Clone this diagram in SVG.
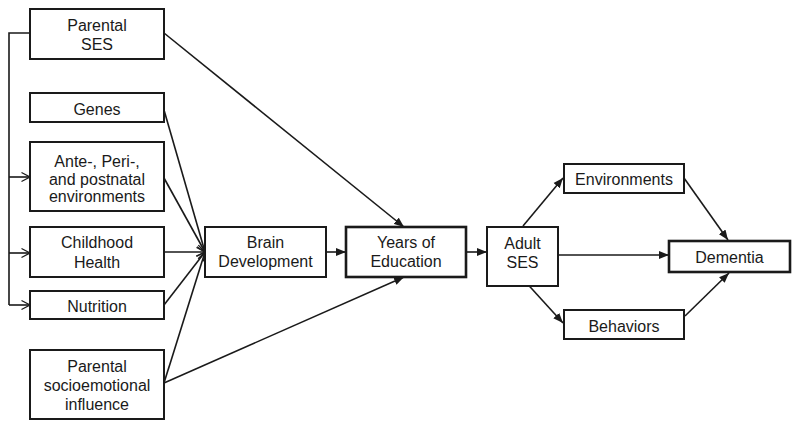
<svg xmlns="http://www.w3.org/2000/svg" width="800" height="429" viewBox="0 0 800 429">
<style>
.box{fill:#fff;stroke:#1a1a1a;stroke-width:2}
.bold{stroke-width:2.6}
text{font-family:"Liberation Sans",Arial,sans-serif;font-size:16px;fill:#1a1a1a;text-anchor:middle}
.c{fill:none;stroke:#1a1a1a;stroke-width:1.6}
.f{marker-end:url(#fa)}
.o{marker-end:url(#oa)}
</style>
<defs>
<marker id="fa" markerUnits="userSpaceOnUse" markerWidth="11" markerHeight="9" refX="10" refY="4.5" orient="auto">
<path d="M0,0.5 L10,4.5 L0,8.5 z" fill="#1a1a1a"/>
</marker>
<marker id="oa" markerUnits="userSpaceOnUse" markerWidth="12" markerHeight="12" refX="10" refY="6" orient="auto">
<path d="M1.5,1.5 L10,6 L1.5,10.5" fill="none" stroke="#1a1a1a" stroke-width="1.3"/>
</marker>
</defs>
<rect width="800" height="429" fill="#fff"/>
<g id="connectors">
<path class="c" d="M30,33 H9 V305"/>
<path class="c o" d="M9,177 H30"/>
<path class="c o" d="M9,253 H30"/>
<path class="c o" d="M9,305 H30"/>
<path class="c f" d="M164,33 L404,227"/>
<path class="c o" d="M164,110 L205,252"/>
<path class="c o" d="M164,178 L205,252"/>
<path class="c o" d="M164,252 L205,252"/>
<path class="c o" d="M164,305 L205,252"/>
<path class="c o" d="M164,383 L205,252"/>
<path class="c f" d="M164,383 L404,277"/>
<path class="c f" d="M326,252 L346,252"/>
<path class="c f" d="M466,252 L487,252"/>
<path class="c f" d="M523,226 L563,178"/>
<path class="c f" d="M558,255 L669,255"/>
<path class="c f" d="M522,278 L563,323"/>
<path class="c f" d="M684,178 L728,240"/>
<path class="c f" d="M685,316 L729,273"/>
</g>
<g id="parental-ses"><rect class="box" x="30" y="9" width="134" height="50"/><text x="97" y="31">Parental</text><text x="97" y="50">SES</text></g>
<g id="genes"><rect class="box" x="30" y="93" width="134" height="29"/><text x="97" y="115">Genes</text></g>
<g id="ante"><rect class="box" x="30" y="142" width="134" height="69"/><text x="97" y="167">Ante-, Peri-,</text><text x="97" y="185">and postnatal</text><text x="97" y="202">environments</text></g>
<g id="childhood-health"><rect class="box" x="30" y="227" width="134" height="50"/><text x="97" y="248">Childhood</text><text x="97" y="268">Health</text></g>
<g id="nutrition"><rect class="box" x="30" y="291" width="134" height="28"/><text x="97" y="312">Nutrition</text></g>
<g id="parental-socio"><rect class="box" x="30" y="350" width="134" height="69"/><text x="97" y="372">Parental</text><text x="97" y="391">socioemotional</text><text x="97" y="410">influence</text></g>
<g id="brain"><rect class="box" x="205" y="227" width="121" height="50"/><text x="265.5" y="248">Brain</text><text x="265.5" y="267">Development</text></g>
<g id="education"><rect class="box bold" x="346" y="227" width="120" height="50"/><text x="406" y="248">Years of</text><text x="406" y="267">Education</text></g>
<g id="adult-ses"><rect class="box" x="487" y="227" width="71" height="59"/><text x="522.5" y="249">Adult</text><text x="522.5" y="268">SES</text></g>
<g id="environments"><rect class="box" x="564" y="164" width="120" height="29"/><text x="624" y="185">Environments</text></g>
<g id="behaviors"><rect class="box" x="564" y="310" width="120" height="29"/><text x="624" y="332">Behaviors</text></g>
<g id="dementia"><rect class="box bold" x="669" y="241" width="121" height="31"/><text x="729.5" y="263">Dementia</text></g>
</svg>
